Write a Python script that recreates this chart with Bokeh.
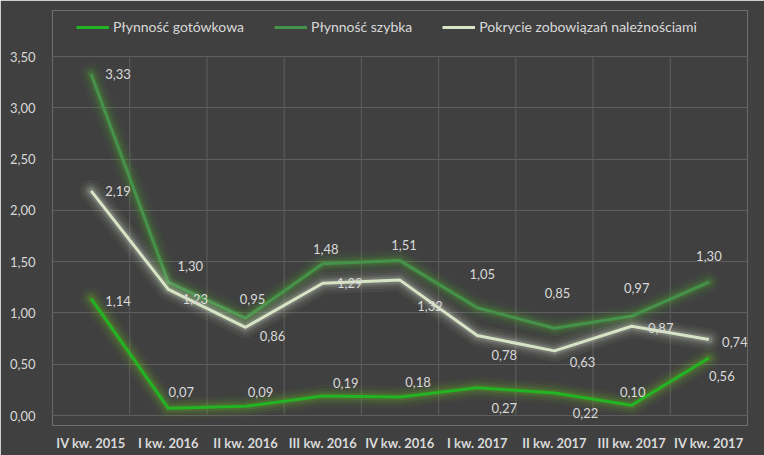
from bokeh.plotting import figure
from bokeh.models import ColumnDataSource, FixedTicker, CustomJSTickFormatter, Legend, LegendItem
from bokeh.core.properties import value
from bokeh.embed import file_html
from bokeh.resources import INLINE

categories = ["IV kw. 2015", "I kw. 2016", "II kw. 2016", "III kw. 2016", "IV kw. 2016",
              "I kw. 2017", "II kw. 2017", "III kw. 2017", "IV kw. 2017"]
plynnosc_gotowkowa = [1.14, 0.07, 0.09, 0.19, 0.18, 0.27, 0.22, 0.10, 0.56]
plynnosc_szybka = [3.33, 1.30, 0.95, 1.48, 1.51, 1.05, 0.85, 0.97, 1.30]
pokrycie = [2.19, 1.23, 0.86, 1.29, 1.32, 0.78, 0.63, 0.87, 0.74]
y_ticks = [0.0, 0.5, 1.0, 1.5, 2.0, 2.5, 3.0, 3.5]
y_max = 3.5

# data-label offsets in screen pixels (label centre relative to point; +dy = up)
off_got = [(27, -2), (13, 16), (15, 14), (23, 13), (18, 15), (27, -20), (31, -20), (1, 13), (13, -18)]
off_szy = [(27, 0), (22, 16), (7, 19), (3, 15), (4, 16), (5, 34), (3, 35), (5, 28), (0, 26)]
off_pok = [(27, 0), (27, -10), (27, -9), (27, 0), (30, -26), (27, -20), (28, -11), (29, -2), (26, -2)]

BG = "#404040"
TXT = "#d9d9d9"
GRID = "#5e5e5e"
FONT = "Lato"

# value 0 sits at y=415 px, value 3.5 at y=56 px; the frame runs from y=10 to y=425
px_per_unit = (415 - 56) / y_max
top_extent = (415 - 10) / px_per_unit
bottom_extent = -(425 - 415) / px_per_unit

p = figure(x_range=categories, y_range=(bottom_extent, top_extent), width=764, height=455,
           output_backend="svg", toolbar_location=None,
           background_fill_color=BG, border_fill_color=BG,
           min_border_left=52, min_border_right=17, min_border_top=10, min_border_bottom=30)
p.outline_line_color = None

p.ygrid.grid_line_color = GRID
p.xgrid.grid_line_color = None
p.ygrid.ticker = FixedTicker(ticks=y_ticks)

p.yaxis.ticker = FixedTicker(ticks=y_ticks)
p.yaxis.formatter = CustomJSTickFormatter(code="return tick.toFixed(2).replace('.', ',');")
for ax in (p.xaxis, p.yaxis):
    ax.axis_line_color = None
    ax.major_tick_line_color = None
    ax.minor_tick_line_color = None
    ax.major_label_text_color = TXT
    ax.major_label_text_font = FONT
    ax.major_label_text_font_size = "13px"
p.xaxis.major_label_text_font_style = "bold"
p.xaxis.major_label_standoff = 3
p.yaxis.major_label_standoff = 11

# vertical gridlines at category boundaries (0 .. y_max)
n = len(categories)
bounds = list(range(n + 1))
p.segment(x0=bounds, y0=[0] * (n + 1), x1=bounds, y1=[y_max] * (n + 1),
          line_color=GRID, line_width=1)

series = [
    ("Płynność gotówkowa", plynnosc_gotowkowa, "#22b422", "#6cc21f", off_got),
    ("Płynność szybka", plynnosc_szybka, "#45934a", "#52b032", off_szy),
    ("Pokrycie zobowiązań należnościami", pokrycie, "#d8e4c6", "#e4ecd6", off_pok),
]

items = []
for name, vals, col, glow, offs in series:
    src = ColumnDataSource(dict(x=categories, y=vals))
    for w, a in [(22, 0.05), (16, 0.07), (11, 0.10), (7, 0.16)]:
        p.line("x", "y", source=src, line_color=glow, line_width=w, line_alpha=a,
               line_join="round", line_cap="round")
    r = p.line("x", "y", source=src, line_color=col, line_width=3, line_join="round")
    items.append(LegendItem(label=name, renderers=[r]))

for name, vals, col, glow, offs in series:
    src = ColumnDataSource(dict(x=categories, y=vals,
                                lbl=[f"{v:.2f}".replace(".", ",") for v in vals],
                                dx=[o[0] for o in offs], dy=[-o[1] for o in offs]))
    p.text("x", "y", text="lbl", source=src, x_offset="dx", y_offset="dy",
           text_align="center", text_baseline="middle", text_color=TXT,
           text_font=value(FONT), text_font_size="13px")

legend = Legend(items=items, orientation="horizontal", location=(24, 390),
                background_fill_alpha=0, border_line_color=None,
                label_text_color=TXT, label_text_font=FONT, label_text_font_size="14px",
                glyph_width=33, glyph_height=14, spacing=30, label_standoff=4,
                padding=0, margin=0)
p.add_layout(legend)

open("out.html", "w").write(file_html(p, INLINE))
